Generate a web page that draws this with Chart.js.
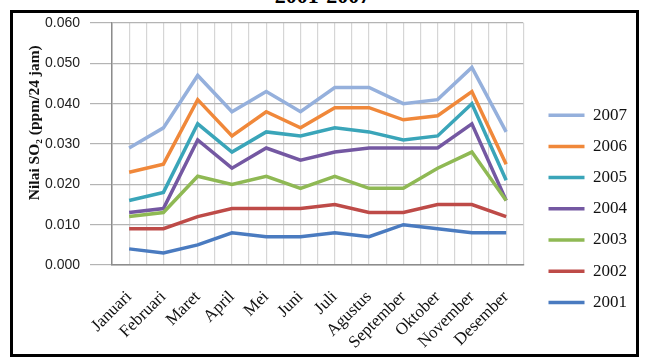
<!DOCTYPE html>
<html lang="id">
<head>
<meta charset="UTF-8">
<title>Nilai SO2 2001-2007</title>
<script src="https://cdn.jsdelivr.net/npm/chart.js"></script>
<style>
  body { margin: 0; background: #fff; }
  .wrap { position: relative; width: 645px; height: 360px; overflow: hidden; }
  .judul { position: absolute; left: 0; width: 645px; top: -15px; text-align: center;
           font: bold 22px/22px 'Liberation Serif', serif; color: #000; }
  .bingkai { position: absolute; left: 10px; top: 10px; width: 629px; height: 347px;
             border: 3px solid #000; box-sizing: border-box; pointer-events: none; }
  canvas { position: absolute; left: 0; top: 0; }
</style>
</head>
<body>
<div class="wrap">
  <div class="judul">2001-2007</div>
  <canvas id="so2Chart" width="645" height="360"></canvas>
  <div class="bingkai"></div>
</div>
<script>
  // data
  const bulan = ['Januari', 'Februari', 'Maret', 'April', 'Mei', 'Juni', 'Juli',
                 'Agustus', 'September', 'Oktober', 'November', 'Desember'];
  const tahun = ['2001', '2002', '2003', '2004', '2005', '2006', '2007'];
  const so2_2001 = [0.004, 0.003, 0.005, 0.008, 0.007, 0.007, 0.008, 0.007, 0.010, 0.009, 0.008, 0.008];
  const so2_2002 = [0.009, 0.009, 0.012, 0.014, 0.014, 0.014, 0.015, 0.013, 0.013, 0.015, 0.015, 0.012];
  const so2_2003 = [0.012, 0.013, 0.022, 0.020, 0.022, 0.019, 0.022, 0.019, 0.019, 0.024, 0.028, 0.016];
  const so2_2004 = [0.013, 0.014, 0.031, 0.024, 0.029, 0.026, 0.028, 0.029, 0.029, 0.029, 0.035, 0.016];
  const so2_2005 = [0.016, 0.018, 0.035, 0.028, 0.033, 0.032, 0.034, 0.033, 0.031, 0.032, 0.040, 0.021];
  const so2_2006 = [0.023, 0.025, 0.041, 0.032, 0.038, 0.034, 0.039, 0.039, 0.036, 0.037, 0.043, 0.025];
  const so2_2007 = [0.029, 0.034, 0.047, 0.038, 0.043, 0.038, 0.044, 0.044, 0.040, 0.041, 0.049, 0.033];
  const sumbuY = [0, 0.01, 0.02, 0.03, 0.04, 0.05, 0.06];

  const semuaSeri = [so2_2001, so2_2002, so2_2003, so2_2004, so2_2005, so2_2006, so2_2007];
  const warna = ['#4a7bc0', '#be4b48', '#8fb954', '#7458a2', '#3aa5b9', '#f0883a', '#95b0dc'];

  const serif = "'Liberation Serif', 'Times New Roman', serif";

  const datasets = semuaSeri.map((seri, k) => ({
    label: tahun[k],
    data: seri.map((v, i) => ({ x: i, y: v })),
    borderColor: warna[k],
    backgroundColor: warna[k],
    borderWidth: 3.5,
    pointRadius: 0,
    tension: 0
  }));

  new Chart(document.getElementById('so2Chart'), {
    type: 'line',
    data: { datasets },
    options: {
      responsive: false,
      animation: false,
      layout: { padding: { left: 12, top: 23, right: 8, bottom: 5 } },
      plugins: {
        tooltip: { enabled: false },
        legend: {
          position: 'right',
          align: 'start',
          reverse: true,
          // judul kosong hanya untuk menurunkan posisi legenda
          title: { display: true, text: '', font: { size: 10 }, padding: { top: 57.5, bottom: 0 } },
          labels: {
            usePointStyle: true,
            pointStyle: 'line',
            pointStyleWidth: 36,
            boxWidth: 36,
            padding: 14.2,
            color: '#111',
            font: { family: serif, size: 17 }
          }
        }
      },
      scales: {
        x: {
          type: 'linear',
          min: -0.5,
          max: bulan.length - 0.5,
          afterBuildTicks: s => {
            const t = [];
            for (let i = 0; i <= bulan.length * 2; i++) t.push({ value: -0.5 + i / 2 });
            s.ticks = t;
          },
          afterFit: s => { s.height = 360 - 5 - 265; },
          grid: { color: '#d6d6d6', lineWidth: 1.2, drawTicks: false },
          border: { color: '#8c8c8c', width: 1.5 },
          ticks: {
            autoSkip: false,
            minRotation: 45,
            maxRotation: 45,
            padding: 22,
            color: '#111',
            font: { family: serif, size: 17 },
            callback: v => Number.isInteger(v) ? bulan[v] : ''
          }
        },
        y: {
          min: sumbuY[0],
          max: sumbuY[sumbuY.length - 1],
          afterBuildTicks: s => { s.ticks = sumbuY.map(v => ({ value: v })); },
          afterFit: s => { s.width = 112 - 12; },
          grid: { color: '#b4b4b4', lineWidth: 1.2, tickLength: 22 },
          border: { color: '#8c8c8c', width: 1.5 },
          ticks: {
            padding: 10,
            color: '#222',
            font: { family: "'Liberation Sans', Arial, sans-serif", size: 14 },
            callback: v => v.toFixed(3)
          },
          title: {
            display: true,
            text: '           Nilai SO\u2082 (ppm/24 jam)',
            color: '#111',
            padding: { top: 14, bottom: 0 },
            font: { family: serif, size: 15.5, weight: 'bold' }
          }
        },
        kanan: {
          position: 'right',
          display: true,
          grid: { display: false },
          border: { display: false },
          ticks: { display: false },
          afterFit: s => { s.width = 11; }
        }
      }
    }
  });
</script>
</body>
</html>
